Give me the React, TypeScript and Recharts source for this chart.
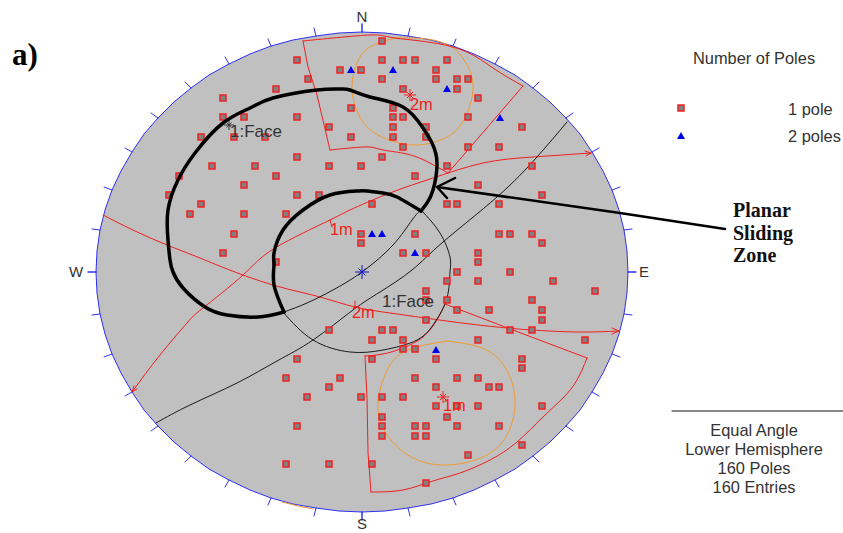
import React from "react"
import { ComposedChart, Area, Scatter, XAxis, YAxis, ReferenceDot } from "recharts"

type Pt = [number, number]

const NET_X = 362
const NET_Y = 272

// half of the net: offset from the centre, half height at that offset
const rim: Pt[] = [
  [0, 240], [23, 239], [46, 236], [69, 232], [91, 226], [112, 218], [133, 208], [153, 197], [171, 184],
  [188, 170], [204, 154], [218, 138], [230, 120], [241, 101], [250, 82], [257, 62], [262, 42], [265, 21], [266, 0],
]

// one quadrant of the rim ticks: on the rim -> outer end
const rimTicks: [number, number, number, number][] = [
  [0, 240, 0, 248], [46, 236, 48, 244], [91, 226, 94, 233], [133, 208, 137, 215], [171, 184, 177, 190],
  [204, 154, 211, 159], [230, 120, 237, 124], [250, 82, 258, 85], [262, 42, 270, 43], [266, 0, 274, 0],
]

const onePole: Pt[] = [
  [297, 60], [308, 79], [276, 89], [223, 98], [223, 117], [244, 117], [297, 117], [201, 137], [234, 137], [265, 137],
  [297, 157], [212, 166], [255, 166], [329, 166], [361, 166], [179, 176], [276, 176], [244, 185], [169, 195], [297, 195],
  [319, 195], [201, 204], [190, 214], [244, 214], [286, 214], [234, 234], [223, 253], [276, 262], [361, 234], [361, 243],
  [340, 70], [361, 70], [351, 108], [329, 127], [351, 137],
  [382, 41], [382, 60], [403, 60], [415, 60], [447, 60], [436, 70], [382, 79], [436, 79], [457, 79], [468, 79],
  [403, 89], [457, 89], [478, 98], [393, 108], [393, 117], [403, 117], [468, 117], [393, 127], [426, 127], [522, 127],
  [393, 137], [426, 137], [403, 147], [468, 147], [499, 147], [382, 157], [447, 166], [532, 166], [415, 176], [478, 185],
  [542, 195], [372, 204], [447, 204], [457, 204], [499, 204], [415, 234], [499, 234], [510, 234], [532, 234], [542, 243],
  [403, 253], [426, 253], [478, 253], [478, 262],
  [457, 272], [510, 272], [447, 281], [478, 281], [553, 281], [426, 291], [595, 291], [426, 300], [447, 300], [532, 300],
  [457, 310], [489, 310], [542, 310], [426, 320], [542, 320], [382, 330], [393, 330], [510, 330], [532, 330], [372, 340],
  [403, 340], [478, 340], [585, 340], [403, 349], [415, 349], [372, 359], [436, 359], [522, 359], [522, 368], [415, 378],
  [457, 378], [478, 378], [436, 387], [489, 387], [499, 387], [361, 397], [382, 397], [403, 397], [436, 406], [457, 406],
  [478, 406], [542, 406], [447, 417], [382, 417], [382, 426], [415, 426], [426, 426], [457, 426], [499, 426], [382, 436],
  [415, 436], [426, 436], [522, 445], [468, 455], [372, 464], [426, 483],
  [329, 330], [297, 359], [286, 378], [340, 378], [329, 387], [307, 397], [297, 426], [286, 464], [329, 464],
]

const twoPoles: Pt[] = [[351, 70], [393, 70], [447, 89], [500, 118], [372, 234], [382, 234], [415, 253], [436, 350]]

const legendOnePole: Pt[] = [[681, 108]]
const legendTwoPoles: Pt[] = [[681, 136]]

const planeMeans: Pt[] = [[410, 95], [443, 397]]
const facePole: Pt[] = [[229, 125]]
const netCentre: Pt[] = [[NET_X, NET_Y]]

const topWindowSide: Pt[] = [[303, 41], [308, 67], [317, 95], [330, 150]]
const topWindowLower: Pt[] = [[330, 150], [350, 148], [370, 147], [383, 150], [407, 154], [428, 162], [448, 173]]
const topWindowRight: Pt[] = [[448, 173], [523, 86]]
const topWindowUpper: Pt[] = [[523, 86], [493, 68], [453, 47], [395, 38], [370, 35], [303, 41]]
const bottomWindowSide: Pt[] = [[365, 356], [367, 398], [368, 452], [371, 492]]
const bottomWindowLower: Pt[] = [[371, 492], [403, 490], [433, 481], [460, 473], [490, 460], [517, 442], [543, 417], [563, 398], [577, 380], [587, 358]]
const bottomWindowRight: Pt[] = [[587, 358], [505, 327], [445, 304]]
const bottomWindowUpper: Pt[] = [[445, 304], [437, 320], [423, 337], [403, 348], [383, 354], [365, 356]]
const plane2m: Pt[] = [
  [103, 215], [135, 231], [167, 245], [195, 256], [217, 265], [243, 275], [280, 287], [320, 297], [355, 307], [390, 313],
  [425, 318], [470, 324], [507, 328], [532, 330], [577, 332], [619, 331],
]
const plane2mHead: Pt[] = [[612, 328], [619, 331], [612, 334]]
const plane1m: Pt[] = [
  [132, 392], [160, 355], [187, 323], [203, 308], [243, 275], [275, 248], [330, 220],
  [350, 210], [390, 193], [433, 178], [483, 163], [533, 157], [591, 153],
]
const plane1mHead: Pt[] = [[585, 151], [591, 153], [586, 156]]
const plane1mTail: Pt[] = [[137, 389], [132, 392], [134, 386]]
const tick2m: Pt[] = [[355, 301], [355, 307]]
const tick1m: Pt[] = [[330, 220], [332, 227]]

const faceCircle: Pt[] = [
  [421, 210], [440, 233], [450, 257], [450, 272], [447, 298], [435, 322], [417, 340], [383, 350], [350, 352], [313, 340], [283, 312],
]
const blackPlaneLong: Pt[] = [
  [156, 423], [190, 405], [237, 383], [277, 361], [313, 340], [353, 310], [380, 292], [412, 270], [443, 242], [497, 197], [537, 157], [567, 122],
]
const blackPlaneFace: Pt[] = [[284, 312], [307, 303], [333, 290], [362, 272], [393, 245], [412, 220], [421, 210]]

const orangeTop: Pt[] = [
  [395, 38], [370, 47], [357, 63], [352, 90], [360, 117], [378, 135], [413, 145], [447, 137], [465, 118], [473, 90], [468, 67], [453, 48], [427, 39], [395, 38],
]
const orangeBottom: Pt[] = [
  [447, 341], [413, 348], [390, 365], [378, 403], [387, 435], [413, 458], [447, 465], [483, 457], [507, 435], [515, 400], [505, 367], [482, 348], [447, 341],
]
const orangeRim: Pt[] = [[282, 502], [298, 506], [313, 509]]

const slidingZoneOuter: Pt[] = [
  [284, 312], [258, 317], [227, 315], [205, 307], [183, 288], [173, 272], [170, 260], [168, 240], [168, 210], [178, 180],
  [195, 153], [223, 123], [250, 108], [273, 98], [317, 90], [340, 89], [350, 90], [370, 97], [403, 107], [423, 128],
  [432, 143], [437, 163], [433, 190], [427, 203], [421, 211],
]
const slidingZoneInner: Pt[] = [
  [421, 211], [397, 197], [383, 193], [367, 191], [357, 191], [330, 195], [303, 210], [283, 230], [274, 253], [274, 265], [274, 285], [284, 312],
]
const arrowShaft: Pt[] = [[437, 187], [620, 213], [725, 229]]
const arrowHead: Pt[] = [[455, 178], [437, 187], [447, 198]]
const ruleLine: Pt[] = [[672, 411], [843, 411]]

const rimBand = [
  ...[...rim].reverse().map(([dx, h]) => ({ x: NET_X - dx, band: [NET_Y - h, NET_Y + h] })),
  ...rim.slice(1).map(([dx, h]) => ({ x: NET_X + dx, band: [NET_Y - h, NET_Y + h] })),
]
const rimOutline: Pt[] = [
  ...[...rim].reverse().map(([dx, h]): Pt => [NET_X - dx, NET_Y - h]),
  ...rim.slice(1).map(([dx, h]): Pt => [NET_X + dx, NET_Y - h]),
  ...[...rim].reverse().slice(1).map(([dx, h]): Pt => [NET_X + dx, NET_Y + h]),
  ...rim.slice(1).map(([dx, h]): Pt => [NET_X - dx, NET_Y + h]),
]

const rows = (pts: Pt[]) => pts.map(([x, y]) => ({ x, y }))

const SANS = "'Liberation Sans', Arial, sans-serif"
const SERIF = "'Liberation Serif', 'Times New Roman', serif"
const RED = "#f02020"
const ORANGE = "#f09a30"
const RIM_BLUE = "#2f2ff0"
const TEXT = "#333"

const squareMark = ({ cx, cy }: any) => (
  <rect x={cx - 3} y={cy - 3} width={6} height={6} fill="#808080" stroke="#f02020" strokeWidth={1.5} />
)
const triangleMark = ({ cx, cy }: any) => (
  <polygon points={`${cx - 4},${cy + 3} ${cx + 4},${cy + 3} ${cx},${cy - 4}`} fill="#0000e6" />
)
const crossMark = (color: string, size: number) => ({ cx, cy }: any) => (
  <g stroke={color} strokeWidth={1}>
    <line x1={cx - size} x2={cx + size} y1={cy} y2={cy} />
    <line x1={cx} x2={cx} y1={cy - size} y2={cy + size} />
    <line x1={cx - size / 2} x2={cx + size / 2} y1={cy - size / 2} y2={cy + size / 2} />
    <line x1={cx - size / 2} x2={cx + size / 2} y1={cy + size / 2} y2={cy - size / 2} />
  </g>
)
const noMark = () => null

function trace(key: string, pts: Pt[], stroke: string, width = 1, joint = "linear") {
  return (
    <Scatter
      key={key}
      data={rows(pts)}
      line={{ stroke, strokeWidth: width, fill: "none", strokeLinejoin: "round", strokeLinecap: "round" }}
      lineJointType={joint as any}
      shape={noMark}
      isAnimationActive={false}
    />
  )
}

function note(text: string, x: number, y: number, fill = TEXT, size = 16.4, anchor = "start", family = SANS, weight = 400) {
  return (
    <ReferenceDot
      key={`${text}-${x}-${y}`}
      x={x}
      y={y}
      r={0}
      ifOverflow="visible"
      shape={({ cx, cy }: any) => (
        <text x={cx} y={cy} fill={fill} fontSize={size} fontFamily={family} fontWeight={weight} textAnchor={anchor as any}>
          {text}
        </text>
      )}
    />
  )
}

export default function App() {
  const ticks = rimTicks.flatMap(([dx, dy, ox, oy], i) =>
    [[1, 1], [1, -1], [-1, 1], [-1, -1]].map(([sx, sy], j) =>
      trace(`tick-${i}-${j}`, [[NET_X + sx * dx, NET_Y + sy * dy], [NET_X + sx * ox, NET_Y + sy * oy]], RIM_BLUE, 1),
    ),
  )

  return (
    <div style={{ position: "absolute", left: 0, top: 0, width: 843, height: 533, background: "#fff" }}>
      <ComposedChart width={843} height={533} margin={{ top: 0, right: 0, bottom: 0, left: 0 }}>
        <XAxis dataKey="x" type="number" domain={[0, 843]} hide allowDataOverflow />
        <YAxis dataKey="y" type="number" domain={[0, 533]} reversed hide allowDataOverflow />
        <Area data={rimBand} dataKey="band" type="linear" fill="#c0c0c0" fillOpacity={1} stroke="none" dot={false} activeDot={false} isAnimationActive={false} />
        {trace("rim", rimOutline, RIM_BLUE, 1)}
        {ticks}
        {trace("orange-rim", orangeRim, ORANGE, 1)}
        {trace("orange-top", orangeTop, ORANGE, 1, "natural")}
        {trace("orange-bottom", orangeBottom, ORANGE, 1, "natural")}
        {trace("tw-side", topWindowSide, RED, 1)}
        {trace("tw-lower", topWindowLower, RED, 1, "natural")}
        {trace("tw-right", topWindowRight, RED, 1)}
        {trace("tw-upper", topWindowUpper, RED, 1, "natural")}
        {trace("bw-side", bottomWindowSide, RED, 1)}
        {trace("bw-lower", bottomWindowLower, RED, 1, "natural")}
        {trace("bw-right", bottomWindowRight, RED, 1)}
        {trace("bw-upper", bottomWindowUpper, RED, 1, "natural")}
        {trace("plane-2m", plane2m, RED, 1, "natural")}
        {trace("plane-2m-head", plane2mHead, RED, 1)}
        {trace("plane-1m", plane1m, RED, 1, "natural")}
        {trace("plane-1m-head", plane1mHead, RED, 1)}
        {trace("plane-1m-tail", plane1mTail, RED, 1)}
        {trace("tick-2m", tick2m, RED, 1)}
        {trace("tick-1m", tick1m, RED, 1)}
        {trace("face-circle", faceCircle, "#1a1a1a", 1, "natural")}
        {trace("black-long", blackPlaneLong, "#1a1a1a", 1, "natural")}
        {trace("black-face", blackPlaneFace, "#1a1a1a", 1, "natural")}
        <Scatter data={rows(onePole)} shape={squareMark} isAnimationActive={false} />
        <Scatter data={rows(twoPoles)} shape={triangleMark} isAnimationActive={false} />
        <Scatter data={rows(legendOnePole)} shape={squareMark} isAnimationActive={false} />
        <Scatter data={rows(legendTwoPoles)} shape={triangleMark} isAnimationActive={false} />
        <Scatter data={rows(planeMeans)} shape={crossMark(RED, 6)} isAnimationActive={false} />
        <Scatter data={rows(facePole)} shape={crossMark("#333", 5)} isAnimationActive={false} />
        <Scatter data={rows(netCentre)} shape={crossMark("#1010c0", 7)} isAnimationActive={false} />
        {trace("sliding-zone-outer", slidingZoneOuter, "#000", 3.5, "natural")}
        {trace("sliding-zone-inner", slidingZoneInner, "#000", 3.5, "natural")}
        {trace("arrow-shaft", arrowShaft, "#000", 2.5)}
        {trace("arrow-head", arrowHead, "#000", 2.5)}
        {trace("rule", ruleLine, "#111", 1)}

        {note("a)", 12, 65, "#000", 31, "start", SERIF, 700)}
        {note("N", 362, 22, TEXT, 15, "middle")}
        {note("S", 362, 529, TEXT, 15, "middle")}
        {note("W", 76, 277, TEXT, 15, "middle")}
        {note("E", 644, 277, TEXT, 15, "middle")}
        {note("1:Face", 230, 137, TEXT, 17)}
        {note("1:Face", 382, 307, TEXT, 17)}
        {note("1m", 330, 235, RED)}
        {note("2m", 410, 110, RED)}
        {note("2m", 352, 318, RED)}
        {note("1m", 443, 411, RED)}
        {note("Number of Poles", 693, 64)}
        {note("1 pole", 788, 115)}
        {note("2 poles", 788, 142)}
        {note("Planar", 733, 217, "#111", 20, "start", SERIF, 700)}
        {note("Sliding", 733, 240, "#111", 20, "start", SERIF, 700)}
        {note("Zone", 733, 262, "#111", 20, "start", SERIF, 700)}
        {note("Equal Angle", 754, 436, TEXT, 16.4, "middle")}
        {note("Lower Hemisphere", 754, 455, TEXT, 16.4, "middle")}
        {note("160 Poles", 754, 474, TEXT, 16.4, "middle")}
        {note("160 Entries", 754, 493, TEXT, 16.4, "middle")}
      </ComposedChart>
    </div>
  )
}
